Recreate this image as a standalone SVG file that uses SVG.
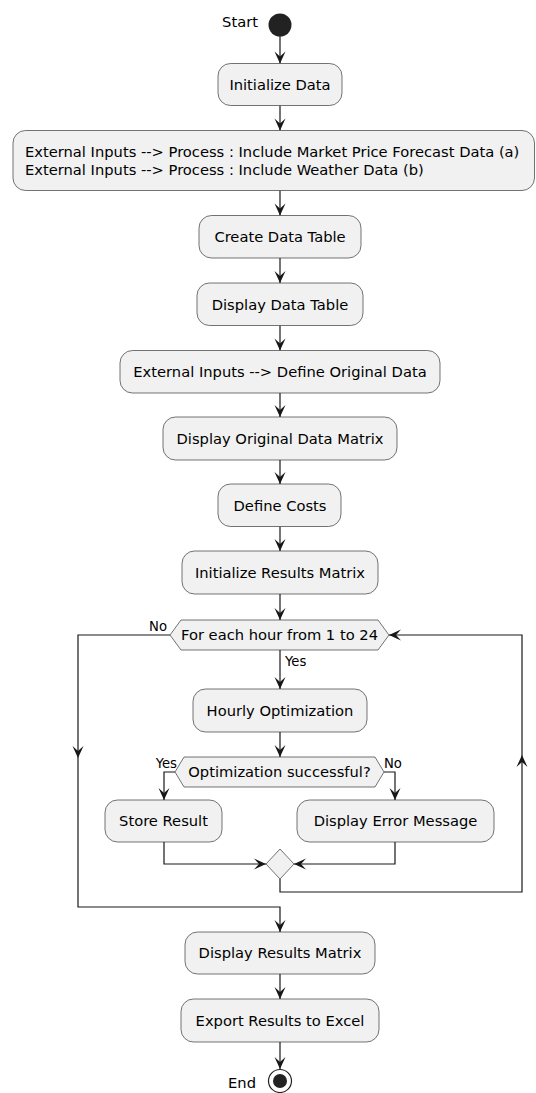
<svg xmlns="http://www.w3.org/2000/svg" width="536" height="1093" viewBox="0 0 536 1093">
<style>
.box{fill:#F1F1F1;stroke:#181818;stroke-width:0.6}
.t{font-family:"DejaVu Sans",Verdana,sans-serif;font-size:14.7px;fill:#000}
.c{text-anchor:middle}
.lbl{font-family:"DejaVu Sans",Verdana,sans-serif;font-size:13.2px;fill:#000}
.ln{fill:none;stroke:#181818;stroke-width:1.2}
</style>
<defs>
<marker id="ah" viewBox="-13 -6 14 12" markerWidth="14" markerHeight="12" refX="0" refY="0" orient="auto" markerUnits="userSpaceOnUse">
<path d="M0,0 L-12,-5.5 L-7,0 L-12,5.5 Z" fill="#181818"/>
</marker>
</defs>
<rect width="536" height="1093" fill="#FFFFFF"/>
<g id="connectors">
<path class="ln" d="M280,36 V63.5" marker-end="url(#ah)"/>
<path class="ln" d="M280,105.5 V130.5" marker-end="url(#ah)"/>
<path class="ln" d="M280,190.5 V215.5" marker-end="url(#ah)"/>
<path class="ln" d="M280,258 V283" marker-end="url(#ah)"/>
<path class="ln" d="M280,325.5 V350.5" marker-end="url(#ah)"/>
<path class="ln" d="M280,393 V417" marker-end="url(#ah)"/>
<path class="ln" d="M280,460 V484" marker-end="url(#ah)"/>
<path class="ln" d="M280,526.5 V551" marker-end="url(#ah)"/>
<path class="ln" d="M280,594 V620" marker-end="url(#ah)"/>
<path class="ln" d="M280,650 V689" marker-end="url(#ah)"/>
<path class="ln" d="M280,732 V757" marker-end="url(#ah)"/>
<path class="ln" d="M175,772 H164 V800" marker-end="url(#ah)"/>
<path class="ln" d="M384,772 H395 V800" marker-end="url(#ah)"/>
<path class="ln" d="M164,842 V864 H266" marker-end="url(#ah)"/>
<path class="ln" d="M395,842 V864 H294" marker-end="url(#ah)"/>
<path class="ln" d="M280,879 V892 H522 V755" marker-end="url(#ah)"/>
<path class="ln" d="M522,755 V635 H389" marker-end="url(#ah)"/>
<path class="ln" d="M170,635 H78 V758" marker-end="url(#ah)"/>
<path class="ln" d="M78,758 V907 H280 V932" marker-end="url(#ah)"/>
<path class="ln" d="M280,974 V999" marker-end="url(#ah)"/>
<path class="ln" d="M280,1042 V1069" marker-end="url(#ah)"/>
</g>
<g id="start">
<circle cx="280" cy="25" r="11.5" fill="#222222"/>
<text class="t" x="258" y="27" text-anchor="end">Start</text>
</g>
<g id="n1">
<rect class="box" x="218" y="63.5" width="124" height="42" rx="12.5"/>
<text class="t c" x="280" y="89.5">Initialize Data</text>
</g>
<g id="n2">
<rect class="box" x="13" y="130.5" width="521.5" height="60" rx="12.5"/>
<text class="t" x="25" y="157">External Inputs --&gt; Process : Include Market Price Forecast Data (a)</text>
<text class="t" x="25" y="175">External Inputs --&gt; Process : Include Weather Data (b)</text>
</g>
<g id="n3">
<rect class="box" x="199" y="215.5" width="162" height="42.5" rx="12.5"/>
<text class="t c" x="280" y="242">Create Data Table</text>
</g>
<g id="n4">
<rect class="box" x="197" y="283" width="166" height="42.5" rx="12.5"/>
<text class="t c" x="280" y="309.5">Display Data Table</text>
</g>
<g id="n5">
<rect class="box" x="120" y="350.5" width="320" height="42.5" rx="12.5"/>
<text class="t c" x="280" y="377">External Inputs --&gt; Define Original Data</text>
</g>
<g id="n6">
<rect class="box" x="163" y="417" width="234" height="43" rx="12.5"/>
<text class="t c" x="280" y="443.5">Display Original Data Matrix</text>
</g>
<g id="n7">
<rect class="box" x="218" y="484" width="123" height="42.5" rx="12.5"/>
<text class="t c" x="280" y="510.5">Define Costs</text>
</g>
<g id="n8">
<rect class="box" x="182" y="551" width="196" height="43" rx="12.5"/>
<text class="t c" x="280" y="577.5">Initialize Results Matrix</text>
</g>
<g id="loop">
<polygon class="box" points="170,635 181,620 378,620 389,635 378,650 181,650"/>
<text class="t c" x="279.5" y="640">For each hour from 1 to 24</text>
<text class="lbl" x="167" y="631" text-anchor="end">No</text>
<text class="lbl" x="285" y="666">Yes</text>
</g>
<g id="n9">
<rect class="box" x="193" y="689" width="174" height="43" rx="12.5"/>
<text class="t c" x="280" y="715.5">Hourly Optimization</text>
</g>
<g id="dec">
<polygon class="box" points="175,772 184,757 375,757 384,772 375,787 184,787"/>
<text class="t c" x="279.5" y="777">Optimization successful?</text>
<text class="lbl" x="177" y="768" text-anchor="end">Yes</text>
<text class="lbl" x="384" y="768">No</text>
</g>
<g id="n10">
<rect class="box" x="105" y="800" width="117" height="42" rx="12.5"/>
<text class="t c" x="163.5" y="826">Store Result</text>
</g>
<g id="n11">
<rect class="box" x="297" y="800" width="197" height="42" rx="12.5"/>
<text class="t c" x="395.5" y="826">Display Error Message</text>
</g>
<g id="merge">
<polygon class="box" points="266,864 280,849 294,864 280,879"/>
</g>
<g id="n12">
<rect class="box" x="185" y="932" width="190" height="42" rx="12.5"/>
<text class="t c" x="280" y="958">Display Results Matrix</text>
</g>
<g id="n13">
<rect class="box" x="181" y="999" width="198" height="43" rx="12.5"/>
<text class="t c" x="280" y="1025.5">Export Results to Excel</text>
</g>
<g id="end">
<circle cx="280" cy="1081" r="11.5" fill="none" stroke="#222222" stroke-width="1.2"/>
<circle cx="280" cy="1081" r="7" fill="#222222"/>
<text class="t" x="256" y="1088" text-anchor="end">End</text>
</g>
</svg>
